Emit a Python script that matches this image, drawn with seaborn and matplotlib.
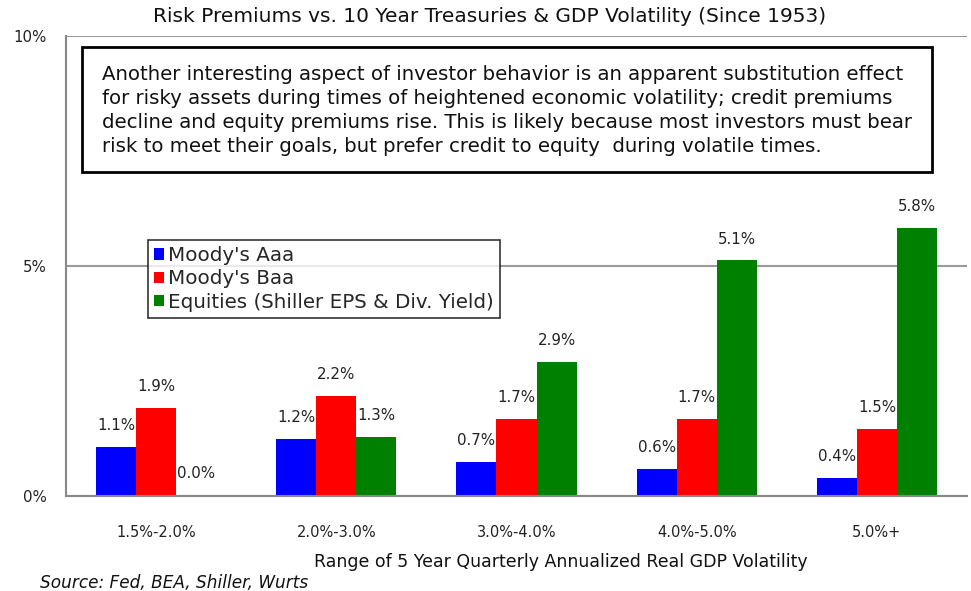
import matplotlib
matplotlib.use("Agg")
import matplotlib.pyplot as plt
import seaborn as sns
import pandas as pd
from matplotlib.patches import Rectangle
from matplotlib.ticker import FuncFormatter

categories = ["1.5%-2.0%", "2.0%-3.0%", "3.0%-4.0%", "4.0%-5.0%", "5.0%+"]
series = ["Moody's Aaa", "Moody's Baa", "Equities (Shiller EPS & Div. Yield)"]
aaa = [1.06, 1.24, 0.74, 0.58, 0.40]
baa = [1.92, 2.18, 1.68, 1.68, 1.46]
equities = [0.03, 1.28, 2.92, 5.12, 5.82]
colors = ["#0000FF", "#FF0000", "#008000"]
yticks = [0, 5, 10]

title = "Risk Premiums vs. 10 Year Treasuries & GDP Volatility (Since 1953)"
xlabel = "Range of 5 Year Quarterly Annualized Real GDP Volatility"
source = "Source: Fed, BEA, Shiller, Wurts"
note_lines = [
    "Another interesting aspect of investor behavior is an apparent substitution effect",
    "for risky assets during times of heightened economic volatility; credit premiums",
    "decline and equity premiums rise. This is likely because most investors must bear",
    "risk to meet their goals, but prefer credit to equity  during volatile times.",
]

sns.set_theme(style="white")
plt.rcParams["font.family"] = ["DejaVu Sans"]

df = pd.DataFrame({
    "cat": categories * 3,
    "series": [series[0]] * 5 + [series[1]] * 5 + [series[2]] * 5,
    "value": aaa + baa + equities,
})

fig = plt.figure(figsize=(9.71, 5.91), dpi=100)
ax = fig.add_axes([66 / 971, 1 - 496 / 591, (967 - 66) / 971, (496 - 36) / 591])

sns.barplot(data=df, x="cat", y="value", hue="series", palette=colors,
            width=2 / 3, gap=0, saturation=1, linewidth=0, ax=ax, legend=False)

for cont in ax.containers:
    ax.bar_label(cont, fmt="%.1f%%", padding=10, fontsize=10.8, color="#222222")

ax.set_ylim(0, 10)
ax.set_xlim(-0.5, 4.5)
ax.set_yticks(yticks)
ax.yaxis.set_major_formatter(FuncFormatter(lambda v, p: f"{v:.0f}%"))
ax.set_xticks([i - 0.5 for i in range(6)], minor=True)
ax.tick_params(axis="x", which="major", length=0, pad=21, labelsize=10.5, labelcolor="#222222")
ax.tick_params(axis="x", which="minor", length=4, color="#888888", width=1.5, direction="out")
ax.tick_params(axis="y", length=3, color="#888888", width=1.5, direction="out",
               labelsize=10.8, pad=11, labelcolor="#222222")
ax.yaxis.grid(True, color="#999999", linewidth=1.5)
ax.set_axisbelow(True)
for s in ["top", "right"]:
    ax.spines[s].set_visible(False)
for s in ["left", "bottom"]:
    ax.spines[s].set_color("#888888")
    ax.spines[s].set_linewidth(1.5)
ax.set_xlabel("")
ax.set_ylabel("")

fig.text(490 / 971, 1 - 17 / 591, title, ha="center", va="center", fontsize=14.5, color="#111111")
fig.text(561 / 971, 1 - 562 / 591, xlabel, ha="center", va="center", fontsize=12.5, color="#111111")
fig.text(40 / 971, 1 - 583 / 591, source, ha="left", va="center", fontsize=12.2,
         style="italic", color="#111111")

fig.patches.append(Rectangle((82 / 971, 1 - 172 / 591), (932 - 82) / 971, (172 - 47) / 591,
                             transform=fig.transFigure, fill=True, facecolor="white",
                             edgecolor="black", linewidth=2, zorder=5))
for i, line in enumerate(note_lines):
    fig.text(102 / 971, 1 - (74 + 24 * i) / 591, line, ha="left", va="center",
             fontsize=14.25, color="#111111", zorder=6)

handles = [Rectangle((0, 0), 1, 1, facecolor=c, edgecolor="none") for c in colors]
leg = fig.legend(handles, series, loc="upper left",
                 bbox_to_anchor=(148 / 971, 1 - 240 / 591), fontsize=14.3,
                 frameon=True, fancybox=False, edgecolor="black",
                 handlelength=0.5, handleheight=0.5, handletextpad=0.2,
                 labelspacing=0.22, borderpad=0.3, borderaxespad=0)
leg.get_frame().set_linewidth(1.2)

fig.savefig("out.png", dpi=100)
